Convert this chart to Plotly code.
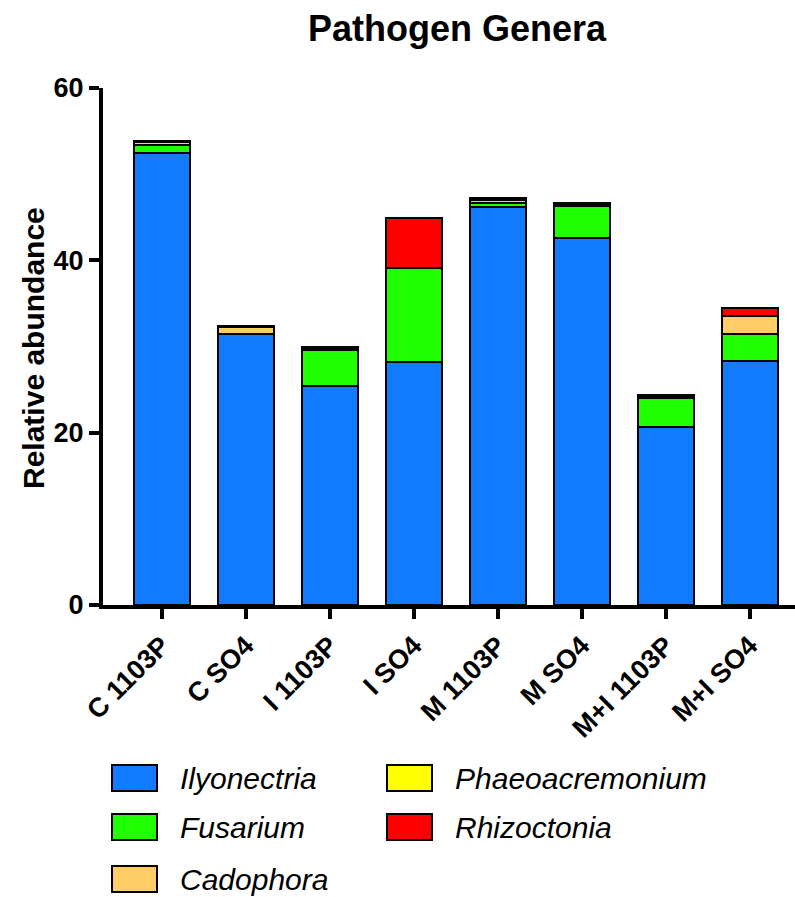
import plotly.graph_objects as go

categories = ["C 1103P", "C SO4", "I 1103P", "I SO4", "M 1103P", "M SO4", "M+I 1103P", "M+I SO4"]
ilyonectria = [52.5, 31.5, 25.4, 28.2, 46.2, 42.6, 20.7, 28.3]
fusarium = [0.9, 0.0, 4.2, 10.9, 0.5, 3.7, 3.3, 3.15]
cadophora = [0.3, 0.8, 0.1, 0.0, 0.3, 0.1, 0.1, 2.1]
phaeoacremonium = [0.0, 0.0, 0.0, 0.0, 0.1, 0.0, 0.0, 0.0]
rhizoctonia = [0.2, 0.1, 0.2, 5.8, 0.1, 0.2, 0.3, 0.95]

series = [
    ("Ilyonectria", ilyonectria, "#127BFF"),
    ("Fusarium", fusarium, "#1FFF00"),
    ("Cadophora", cadophora, "#FFCC66"),
    ("Phaeoacremonium", phaeoacremonium, "#FFFF00"),
    ("Rhizoctonia", rhizoctonia, "#FF0000"),
]

W, H = 795, 897
L, R, T, B = 103, 0, 88, 292
pw, ph = W - L - R, H - T - B

def px(x):
    return (x - L) / pw

def py(y):
    return (H - B - y) / ph

FONT = "Liberation Sans, Arial, sans-serif"

fig = go.Figure()
for name, vals, col in series:
    fig.add_trace(go.Bar(
        x=categories, y=vals, name=name,
        marker=dict(color=col, line=dict(color="black", width=2)),
        width=0.67, showlegend=False,
    ))

fig.update_layout(
    barmode="stack",
    width=W, height=H,
    margin=dict(l=L, r=R, t=T, b=B),
    plot_bgcolor="white", paper_bgcolor="white",
    font=dict(family=FONT, color="black"),
    title=dict(text="<b>Pathogen Genera</b>", x=457 / W, xanchor="center",
               y=1 - 28 / H, yanchor="middle", font=dict(size=36, family=FONT, color="black")),
    xaxis=dict(
        range=[-0.70, 7.54], showline=True, linecolor="black", linewidth=4,
        ticks="outside", ticklen=10, tickwidth=4, tickcolor="black",
        tickangle=-45, tickfont=dict(size=27, family=FONT, color="black", weight="bold"),
        showgrid=False, zeroline=False, fixedrange=True,
    ),
    yaxis=dict(
        range=[0, 60], tickvals=[0, 20, 40, 60], showline=True, linecolor="black", linewidth=4,
        ticks="outside", ticklen=10, tickwidth=4, tickcolor="black",
        tickfont=dict(size=27, family=FONT, color="black", weight="bold"),
        showgrid=False, zeroline=False,
    ),
)

fig.add_annotation(
    text="<b>Relative abundance</b>", textangle=-90, xref="paper", yref="paper",
    x=px(33), y=py(348), xanchor="center", yanchor="middle", showarrow=False,
    font=dict(size=30, family=FONT, color="black"),
)

legend_pos = [
    ("Ilyonectria", "#127BFF", 112, 778),
    ("Fusarium", "#1FFF00", 112, 827),
    ("Cadophora", "#FFCC66", 112, 879),
    ("Phaeoacremonium", "#FFFF00", 387, 778),
    ("Rhizoctonia", "#FF0000", 387, 827),
]
for name, col, x0, yc in legend_pos:
    fig.add_shape(type="rect", xref="paper", yref="paper",
                  x0=px(x0), x1=px(x0 + 45), y0=py(yc - 13), y1=py(yc + 13),
                  fillcolor=col, line=dict(color="black", width=2))
    fig.add_annotation(text=f"<i>{name}</i>", xref="paper", yref="paper",
                       x=px(x0 + 66), y=py(yc), xanchor="left", yanchor="middle",
                       showarrow=False, font=dict(size=30, family=FONT, color="black"))

fig.write_html("out.html")
